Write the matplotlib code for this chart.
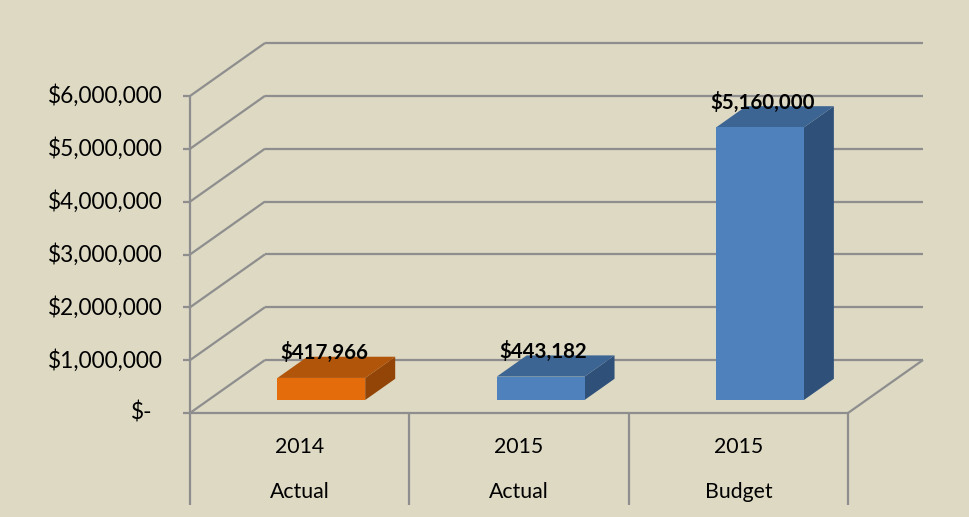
import matplotlib.pyplot as plt
from matplotlib.patches import Polygon
import numpy as np

# data
years = ['2014', '2015', '2015']
kinds = ['Actual', 'Actual', 'Budget']
values = [417966, 443182, 5160000]
front_colors = ['#E46C0A', '#4F81BD', '#4F81BD']
top_colors = ['#B1550A', '#3C6594', '#3C6594']
side_colors = ['#934508', '#2F5079', '#2F5079']
ticks = [0, 1000000, 2000000, 3000000, 4000000, 5000000, 6000000]

plt.rcParams['font.family'] = ['Lato', 'DejaVu Sans']
bg = '#DDD9C3'
grid = '#8E8E8E'

W, H = 970, 517
fig = plt.figure(figsize=(W / 100, H / 100), dpi=100, facecolor=bg)
ax = fig.add_axes([0, 0, 1, 1])
ax.set_facecolor(bg)
ax.axis('off')

# pixel layout of the front plane -> data limits
x0px, x3px = 190, 848
y0px, y6px = 413, 96
sx = (x3px - x0px) / 3.0
sy = (y0px - y6px) / 6e6
ax.set_xlim(-x0px / sx, (W - x0px) / sx)
ax.set_ylim(-(H - y0px) / sy, y0px / sy)

# oblique depth offset
dx = 75 / sx
dy = 53 / sy
n = len(values)

lk = dict(color=grid, lw=1.6, zorder=1, solid_capstyle='butt')
# back wall + left wall gridlines
for t in ticks:
    ax.plot([dx, n + dx], [t + dy, t + dy], **lk)
    ax.plot([0, dx], [t, t + dy], **lk)
    ax.plot([-7 / sx, 0], [t, t], **lk)
# front axis, floor
ax.plot([0, 0], [0, ticks[-1]], **lk)
ax.plot([0, n], [0, 0], **lk)
ax.plot([n, n + dx], [0, dy], **lk)
# category dividers
for i in range(n + 1):
    ax.plot([i, i], [0, -92 / sy], **lk)

# y tick labels
for t in ticks:
    if t:
        ax.text(-27 / sx, t, '$%s' % format(t, ','), ha='right', va='center',
                fontsize=16.3, color='#000000')
    else:
        ax.text(-38 / sx, t, '$-', ha='right', va='center', fontsize=16.3)

# category labels
for i in range(n):
    ax.text(i + 0.5, -34 / sy, years[i], ha='center', va='center', fontsize=15.3)
    ax.text(i + 0.5, -79 / sy, kinds[i], ha='center', va='center', fontsize=15.3)

# 3d bars
f0, f1 = 0.245, 0.645
bw = 0.4
for i, v in enumerate(values):
    xl = i + 0.515 - bw / 2
    xr = xl + bw
    ox, oy = f0 * dx, f0 * dy
    ex, ey = (f1 - f0) * dx, (f1 - f0) * dy
    fl, fr, fb, ft = xl + ox, xr + ox, oy, v + oy
    side = [(fr, fb), (fr + ex, fb + ey), (fr + ex, ft + ey), (fr, ft)]
    top = [(fl, ft), (fl + ex, ft + ey), (fr + ex, ft + ey), (fr, ft)]
    front = [(fl, fb), (fr, fb), (fr, ft), (fl, ft)]
    ax.add_patch(Polygon(side, closed=True, fc=side_colors[i], ec='none', zorder=3))
    ax.add_patch(Polygon(top, closed=True, fc=top_colors[i], ec='none', zorder=3))
    ax.add_patch(Polygon(front, closed=True, fc=front_colors[i], ec='none', zorder=4))
    ax.annotate('$%s' % format(v, ','), ((fl + fr) / 2, ft), xytext=(2, 18),
                textcoords='offset points', ha='center', va='center',
                fontsize=14.8, fontweight='bold', zorder=5)

fig.savefig('out.png', dpi=100, facecolor=bg)
